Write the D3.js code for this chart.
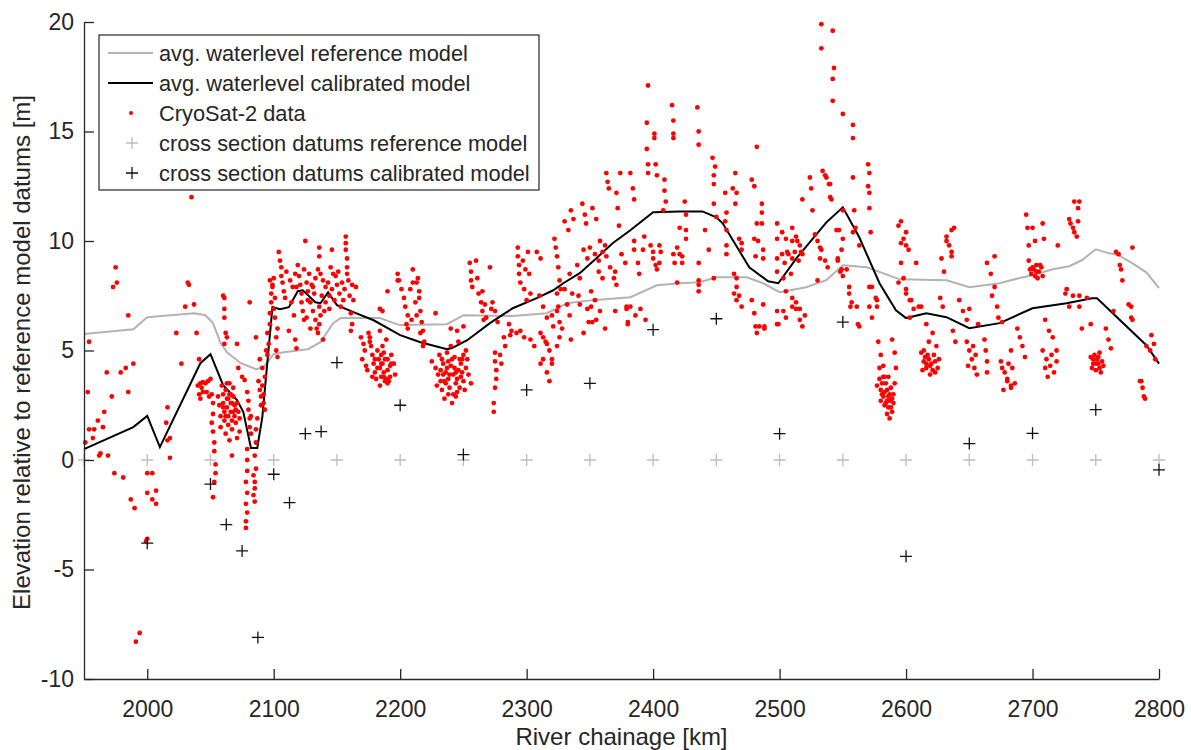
<!DOCTYPE html>
<html>
<head>
<meta charset="utf-8">
<script src="https://cdn.jsdelivr.net/npm/d3@7"></script>
<style>
  body { margin: 0; background: #fff; }
  svg { display: block; font-family: 'Liberation Sans', Arial, sans-serif; }
</style>
</head>
<body>
<svg id="chart" width="1191" height="750"></svg>
<script>
// avg. waterlevel reference model
const refKm = [1950, 1989, 2000, 2037, 2046, 2052, 2058, 2063, 2074, 2086, 2092, 2100, 2108, 2127, 2137, 2147, 2153, 2184, 2195,
  2200, 2237, 2250, 2289, 2316, 2332, 2352, 2382, 2403, 2421, 2437, 2450, 2474, 2487, 2500, 2521, 2537, 2550, 2569, 2595,
  2632, 2650, 2674, 2689, 2700, 2716, 2729, 2739, 2750, 2758, 2768, 2779, 2790, 2800]
const refLevel = [5.75, 5.97, 6.52, 6.70, 6.61, 6.25, 5.34, 4.92, 4.42, 4.15, 4.24, 4.83, 4.92, 5.06, 5.38, 6.25, 6.48, 6.48, 6.25,
  6.16, 6.20, 6.61, 6.57, 6.70, 7.16, 7.30, 7.43, 7.98, 8.07, 8.12, 8.34, 8.34, 8.07, 7.66, 7.89, 8.21, 8.89, 8.80, 8.25,
  8.21, 7.89, 8.07, 8.30, 8.44, 8.71, 8.85, 9.12, 9.62, 9.48, 9.35, 8.98, 8.57, 7.85]

// avg. waterlevel calibrated model
const calKm = [1950, 1989, 2000, 2010, 2042, 2050, 2060, 2071, 2076, 2082, 2087, 2091, 2099, 2105, 2112, 2119, 2123, 2133, 2137,
  2143, 2150, 2163, 2179, 2200, 2216, 2237, 2241, 2253, 2271, 2289, 2308, 2321, 2329, 2342, 2356, 2368, 2382, 2400, 2421,
  2439, 2450, 2455, 2476, 2491, 2499, 2514, 2537, 2550, 2563, 2579, 2592, 2600, 2616, 2632, 2650, 2674, 2700, 2727, 2747,
  2751, 2790, 2800]
const calLevel = [0.50, 1.50, 2.01, 0.59, 4.42, 4.83, 3.42, 2.74, 2.19, 0.55, 0.55, 1.96, 6.98, 6.89, 6.98, 7.71, 7.75, 7.20, 7.16,
  7.66, 7.07, 6.75, 6.38, 5.70, 5.38, 5.06, 5.11, 5.47, 6.25, 6.93, 7.39, 7.75, 8.07, 8.53, 9.26, 9.90, 10.49, 11.31, 11.35,
  11.35, 11.08, 10.81, 8.80, 8.16, 8.07, 9.26, 10.85, 11.54, 10.17, 8.07, 6.84, 6.48, 6.70, 6.52, 6.02, 6.25, 6.93, 7.16, 7.39,
  7.39, 5.24, 4.40]

// cross section datums reference model
const refDatumKm = [1950, 2000, 2050, 2100, 2150, 2200, 2250, 2300, 2350, 2400, 2450, 2500, 2550, 2600, 2650, 2700, 2750, 2800]
const refDatumLevel = [0, 0, 0, 0, 0, 0, 0, 0, 0, 0, 0, 0, 0, 0, 0, 0, 0, 0]

// cross section datums calibrated model
const calDatumKm = [2000, 2050, 2062.5, 2075, 2087.5, 2100, 2112.5, 2125, 2137.5, 2150, 2200, 2250, 2300, 2350, 2400, 2450,
  2500, 2550, 2600, 2650, 2700, 2750, 2800]
const calDatumLevel = [-3.8, -1.1, -2.95, -4.15, -8.1, -0.65, -1.95, 1.2, 1.3, 4.45, 2.5, 0.25, 3.2, 3.5, 5.95, 6.45,
  1.2, 6.3, -4.4, 0.75, 1.22, 2.3, -0.45]

// CryoSat-2 data [km, m]
const cryoSat = [
  // 1950 - 2050
  [1951, 0.8], [1953, 3.1], [1954, 5.4], [1954, 1.4], [1957, 1.0], [1958, 1.4], [1961, 1.8], [1962, 0.2], [1963, 0.3],
  [1965, 1.5], [1966, 2.2], [1968, 4.0], [1969, 0.2], [1972, 2.9], [1974, -0.6], [1973, 7.9], [1976, 8.1], [1975, 8.8],
  [1979, 4.0], [1981, -0.8], [1983, 4.2], [1985, 3.1], [1985, 6.6], [1987, -1.8], [1989, 4.4], [1990, -2.2], [1994, -7.9],
  [1991, -8.3], [1999, -3.7], [2000, -3.6], [2000, -0.6], [2004, -0.6], [2000, -1.5], [2004, -1.8], [2007, -1.4], [2007, -2.0],
  [2018, 0.1], [2018, 1.0], [2016, 0.9], [2016, 2.4], [2015, 1.7], [2023, 5.8], [2027, 4.4], [2030, 7.0], [2037, 7.1],
  [2032, 8.1], [2033, 8.0], [2035, 12.0], [2039, 5.8], [2041, 4.6], [2042, 2.8],
  [2040, 3.4], [2042, 3.5], [2044, 3.55], [2046, 3.5], [2048, 3.6], [2047, 3.1], [2044, 3.1], [2041, 3.0], [2049, 2.9], [2043, 3.3],
  [2050, 3.7], [2051, 3.0], [2052, 2.6], [2052, 2.1], [2051, 1.7], [2052, 1.3], [2053, 0.8], [2053, 0.4], [2054, -0.2],
  [2054, -0.6], [2053, -1.0], [2052, -1.7],
  // 2055 - 2100
  [2060, 7.5], [2061, 7.4], [2061, 6.9], [2061, 6.5], [2062, 5.8], [2063, 5.6], [2061, 5.3], [2071, 5.3], [2081, 7.2], [2086, 5.6],
  [2059, 3.4], [2060, 3.0], [2060, 2.6], [2061, 2.2], [2061, 1.8], [2062, 3.2], [2063, 2.8], [2063, 2.4], [2064, 2.0], [2064, 1.6],
  [2065, 3.5], [2065, 3.0], [2066, 2.6], [2066, 2.2], [2067, 1.8], [2067, 1.4], [2068, 3.3], [2068, 2.9], [2069, 2.5], [2069, 2.0],
  [2070, 1.7], [2058, 2.0], [2057, 2.5], [2056, 2.9], [2058, 1.5], [2071, 2.6], [2072, 2.2], [2073, 1.9], [2073, 1.3], [2062, 1.2],
  [2065, 0.9], [2067, 0.2], [2071, 1.0], [2072, 4.2], [2075, 3.8], [2077, 3.65],
  [2060, 2.4], [2062, 2.0], [2064, 2.8], [2066, 3.0], [2068, 2.2], [2070, 2.3], [2063, 3.5], [2067, 2.6],
  [2079, 3.1], [2080, 2.7], [2080, 2.3], [2081, 1.9], [2081, 1.5], [2082, 1.2], [2082, 2.0],
  [2079, 0.5], [2079, 0.0], [2079, -0.5], [2078, -1.0], [2079, -1.5], [2078, -2.0], [2079, -2.4], [2078, -2.8], [2078, -3.1],
  [2084, -0.7], [2085, -1.0], [2085, -1.3], [2084, -1.6], [2085, -1.9], [2086, -0.4], [2085, 0.2], [2086, 0.8], [2086, 1.4], [2087, 1.9],
  [2088, 3.6], [2089, 3.2], [2090, 2.9], [2090, 2.5], [2091, 3.4], [2092, 3.0], [2092, 2.6], [2093, 2.3], [2093, 3.8], [2091, 4.2], [2089, 4.6],
  [2094, 5.0], [2095, 5.8], [2095, 4.8], [2096, 5.3], [2097, 6.2], [2097, 6.7], [2098, 7.2], [2098, 7.6], [2099, 8.0], [2100, 8.3],
  [2101, 7.4], [2101, 6.5], [2102, 5.6], [2102, 5.0], [2103, 6.0], [2100, 6.9], [2103, 4.7], [2097, 8.2], [2099, 7.9],
  // 2100 - 2180
  [2104, 9.5], [2105, 9.1], [2106, 8.8], [2106, 8.4], [2107, 8.1], [2108, 7.7], [2109, 7.4],
  [2114, 7.2], [2116, 6.6], [2112, 5.9], [2117, 5.5], [2118, 5.1],
  [2119, 8.9], [2120, 8.4], [2121, 8.0], [2122, 7.6], [2122, 7.2], [2123, 6.8], [2124, 6.4], [2118, 7.9], [2125, 10.0], [2124, 8.7],
  [2128, 8.5], [2130, 8.0], [2132, 7.6], [2129, 7.2], [2131, 6.8], [2133, 6.4], [2134, 6.0], [2135, 5.8], [2136, 7.0], [2138, 7.5],
  [2137, 6.6], [2136, 6.2], [2139, 5.5], [2127, 7.7], [2136, 9.7], [2136, 9.3], [2137, 8.5], [2146, 9.6], [2145, 8.8], [2147, 8.5],
  [2110, 8.6], [2113, 8.2], [2115, 7.9], [2117, 8.5], [2126, 8.1], [2127, 7.3], [2131, 7.9], [2133, 8.3], [2135, 8.7], [2139, 8.2],
  [2141, 7.9], [2143, 8.1], [2144, 7.5], [2146, 7.8], [2148, 7.3], [2149, 8.4], [2151, 8.6], [2153, 7.0], [2154, 8.1], [2126, 6.5],
  [2129, 6.0], [2140, 6.8],
  [2157, 10.2], [2157, 9.9], [2157, 9.6], [2158, 9.2], [2158, 8.8], [2158, 8.5], [2159, 8.2],
  [2150, 8.0], [2152, 7.6], [2155, 7.3], [2156, 7.8], [2160, 7.5], [2162, 8.0], [2163, 7.3], [2165, 7.9], [2141, 7.2], [2144, 6.9],
  [2161, 6.7], [2162, 6.2], [2161, 5.9], [2169, 5.6], [2171, 5.3], [2172, 5.0], [2170, 4.6], [2173, 4.3], [2174, 4.1], [2175, 5.8], [2176, 5.4],
  // 2175 - 2260
  [2176, 5.6], [2177, 5.2], [2178, 4.8], [2179, 4.4], [2180, 4.0], [2181, 3.7], [2182, 5.0], [2183, 4.6], [2184, 4.2], [2185, 3.8],
  [2186, 4.4], [2187, 4.0], [2188, 3.6], [2178, 3.8], [2184, 3.4], [2189, 3.7], [2190, 3.5], [2184, 5.9], [2186, 5.2], [2188, 4.6],
  [2190, 4.1], [2192, 3.8], [2185, 4.8], [2189, 5.5], [2193, 4.8], [2195, 4.4], [2196, 3.9], [2187, 3.8], [2191, 3.6], [2193, 4.4],
  [2180, 4.6], [2182, 4.2], [2185, 4.4], [2187, 4.9], [2190, 4.6], [2192, 4.3],
  [2184, 6.9], [2186, 6.8], [2190, 7.7], [2198, 8.2],
  [2198, 8.5], [2199, 8.2], [2201, 7.8], [2203, 7.4], [2204, 7.0], [2206, 6.6], [2208, 7.8], [2210, 8.1], [2212, 7.2], [2213, 6.6],
  [2214, 8.3], [2215, 7.7], [2209, 6.4], [2205, 6.2], [2206, 6.0], [2210, 8.7], [2216, 6.8], [2217, 6.3], [2218, 5.9], [2219, 5.4],
  [2213, 8.1], [2215, 7.4], [2216, 5.8], [2218, 5.2], [2228, 6.7],
  [2225, 4.5], [2228, 4.2], [2230, 3.9], [2232, 3.6], [2234, 4.4], [2236, 4.0], [2238, 3.7], [2240, 4.3], [2242, 3.9], [2244, 3.5],
  [2246, 4.1], [2248, 3.8], [2250, 3.6], [2252, 4.2], [2231, 4.8], [2237, 4.9], [2243, 4.7], [2249, 4.6], [2233, 3.2], [2239, 3.3],
  [2245, 3.1], [2235, 2.8], [2241, 2.6], [2229, 3.4], [2247, 3.3], [2254, 3.9], [2256, 3.5], [2240, 5.2], [2246, 5.4], [2252, 5.0],
  [2240, 6.0], [2245, 5.9], [2250, 6.1], [2238, 4.5], [2244, 4.0], [2234, 3.9], [2248, 4.4], [2242, 3.0], [2236, 3.5], [2251, 3.2],
  [2233, 4.6], [2237, 4.2], [2239, 3.9], [2241, 4.6], [2243, 4.2], [2245, 3.7], [2247, 4.6], [2249, 4.0], [2235, 3.6], [2238, 3.0],
  [2244, 2.9], [2250, 4.8], [2232, 4.1], [2253, 4.6],
  // 2255 - 2330
  [2255, 9.0], [2256, 8.6], [2256, 8.2], [2257, 7.9], [2260, 9.1], [2261, 8.3], [2271, 8.8],
  [2262, 7.6], [2264, 7.2], [2265, 6.8], [2266, 6.4], [2265, 7.7], [2267, 7.1], [2268, 6.5], [2273, 7.2], [2272, 6.9],
  [2275, 6.8], [2277, 6.3], [2275, 4.9], [2275, 4.5], [2276, 4.1], [2276, 3.7], [2275, 3.3], [2274, 2.6], [2274, 2.2],
  [2279, 4.8], [2280, 4.4], [2282, 5.6], [2283, 5.2], [2286, 6.2], [2287, 5.7], [2288, 5.9], [2292, 5.8],
  [2293, 9.7], [2293, 9.3], [2294, 8.9], [2294, 8.5], [2295, 8.1], [2297, 9.1], [2299, 8.7], [2298, 7.8], [2300, 7.3],
  [2301, 9.5], [2302, 8.5], [2303, 7.6], [2295, 5.9], [2298, 5.6], [2303, 5.5], [2306, 5.2],
  [2308, 9.5], [2311, 9.2], [2310, 7.5], [2313, 7.0], [2316, 6.5], [2313, 5.6], [2316, 5.3], [2311, 4.4], [2320, 4.4],
  [2311, 5.8], [2315, 5.4], [2318, 5.0], [2320, 4.6], [2320, 6.6], [2321, 6.1], [2316, 4.0], [2318, 3.6], [2313, 4.6],
  [2322, 10.1], [2323, 9.7], [2324, 9.3], [2325, 8.8], [2326, 8.2], [2327, 7.8], [2324, 6.8], [2326, 6.3], [2326, 5.6], [2324, 5.2],
  [2324, 7.6], [2325, 7.0], [2330, 7.8],
  // 2330 - 2400
  [2330, 10.9], [2333, 10.5], [2335, 11.4], [2337, 11.0], [2334, 8.5], [2336, 7.6], [2332, 7.1], [2334, 6.6],
  [2340, 8.9], [2342, 8.3], [2341, 7.5], [2342, 7.1], [2344, 11.7], [2346, 11.2], [2347, 10.8],
  [2351, 7.7], [2351, 7.0], [2352, 6.3], [2348, 6.9], [2349, 6.3], [2352, 11.5], [2355, 11.0],
  [2350, 9.7], [2354, 9.4], [2357, 9.1], [2360, 9.5], [2357, 8.6], [2360, 8.3], [2358, 10.0], [2354, 7.3], [2358, 6.8],
  [2363, 13.1], [2364, 12.7], [2365, 12.4], [2363, 9.3], [2366, 8.8], [2369, 8.3], [2371, 8.0], [2370, 8.6],
  [2371, 12.2], [2372, 11.5], [2373, 10.7], [2374, 13.1], [2379, 7.0], [2380, 6.3], [2379, 6.9], [2380, 6.2],
  [2382, 13.1], [2384, 12.4], [2385, 11.9], [2385, 9.6], [2388, 9.0], [2389, 8.5], [2385, 10.0],
  [2395, 15.4], [2395, 14.2], [2396, 13.5], [2396, 13.1], [2396, 17.1], [2400, 9.5], [2402, 8.9],
  [2382, 7.0], [2386, 6.6], [2390, 6.9], [2394, 6.4], [2328, 6.0], [2335, 5.5], [2345, 5.8], [2355, 6.4], [2362, 6.0], [2370, 6.8],
  [2345, 9.6], [2348, 9.2], [2362, 9.8], [2375, 9.4], [2378, 9.0], [2392, 9.6], [2393, 10.2],
  // 2400 - 2500
  [2401, 14.9], [2401, 14.7], [2402, 13.5], [2403, 13.0], [2409, 12.8], [2409, 12.3], [2410, 11.8], [2408, 11.4],
  [2415, 16.2], [2416, 15.5], [2416, 14.9], [2416, 14.7], [2435, 16.1], [2436, 15.0], [2436, 14.4],
  [2425, 11.8], [2426, 11.2], [2426, 10.5], [2419, 9.7], [2423, 9.3], [2416, 9.4], [2417, 9.0],
  [2398, 9.8], [2400, 9.2], [2403, 8.7], [2406, 9.5], [2405, 9.8], [2405, 9.0], [2419, 8.1], [2436, 9.0], [2436, 8.2],
  [2441, 10.5], [2444, 9.6], [2447, 13.8], [2448, 13.0], [2448, 12.6], [2449, 13.4],
  [2457, 12.2], [2458, 11.3], [2458, 10.5], [2458, 9.8], [2457, 10.9], [2458, 9.4], [2465, 13.1], [2466, 12.2], [2463, 12.4], [2465, 11.7],
  [2466, 8.3], [2468, 7.5], [2464, 7.6], [2466, 7.3], [2468, 10.1], [2470, 9.6], [2470, 9.9], [2464, 8.5], [2466, 7.9], [2470, 7.0],
  [2478, 12.8], [2480, 12.5], [2482, 14.3], [2478, 7.3], [2480, 6.7], [2481, 6.1], [2482, 5.8], [2484, 6.1], [2488, 6.0],
  [2480, 10.1], [2481, 9.3], [2486, 10.8], [2487, 9.2], [2487, 7.1], [2488, 6.1], [2486, 11.7], [2486, 11.3], [2482, 10.8], [2483, 10.0], [2487, 9.6],
  [2498, 10.8], [2498, 10.1], [2498, 9.2], [2498, 6.8], [2498, 6.2], [2498, 8.6], [2499, 6.2],
  [2421, 10.6], [2426, 10.1], [2421, 9.4], [2423, 9.0], [2436, 8.0], [2436, 7.7], [2448, 8.3], [2448, 11.7], [2450, 11.1],
  // 2500 - 2580
  [2502, 9.4], [2504, 9.0], [2503, 6.8], [2505, 6.5], [2502, 10.4], [2505, 10.1], [2507, 9.4], [2506, 9.5], [2510, 9.2],
  [2503, 8.3], [2505, 7.7], [2510, 7.0], [2510, 10.0], [2514, 10.0], [2517, 9.5], [2509, 8.5], [2513, 7.2], [2516, 6.9], [2520, 6.6],
  [2510, 10.6], [2513, 10.2], [2516, 9.8], [2518, 9.4], [2512, 9.5], [2515, 9.1], [2510, 7.4], [2513, 6.9], [2516, 6.4], [2518, 6.1],
  [2518, 11.9], [2524, 12.9], [2525, 12.4], [2526, 11.4],
  [2528, 10.3], [2530, 10.0], [2532, 9.7], [2533, 9.6], [2536, 9.1], [2538, 8.8], [2532, 9.2], [2530, 8.2],
  [2534, 13.2], [2537, 12.9], [2540, 12.6], [2536, 13.0], [2539, 12.6], [2540, 12.0], [2541, 11.9],
  [2533, 19.9], [2533, 18.8], [2542, 19.6], [2543, 17.9], [2542, 17.4], [2542, 16.4], [2550, 15.8], [2558, 15.3], [2558, 14.7], [2558, 12.9],
  [2547, 10.5], [2549, 9.6], [2546, 9.1], [2548, 8.6], [2545, 10.5], [2550, 10.1], [2546, 9.2], [2549, 8.7], [2550, 11.4],
  [2553, 8.7], [2555, 7.9], [2557, 7.2], [2550, 8.4], [2555, 7.6], [2556, 7.0], [2562, 6.2], [2561, 7.0], [2563, 6.1],
  [2559, 11.4], [2560, 10.6], [2558, 10.4], [2563, 9.8],
  [2570, 13.5], [2570, 12.5], [2571, 11.5], [2571, 13.1], [2571, 12.2], [2572, 10.4], [2573, 7.9], [2573, 6.5], [2577, 7.0],
  [2571, 7.9], [2571, 7.0], [2576, 7.4], [2577, 7.3],
  // 2575 - 2600 low cluster
  [2578, 5.4], [2580, 4.8], [2582, 4.3], [2583, 3.8], [2584, 3.5], [2585, 3.2], [2586, 2.9], [2587, 2.7], [2588, 2.4], [2589, 2.2],
  [2590, 3.0], [2591, 3.5], [2580, 3.2], [2579, 3.7], [2582, 2.9], [2584, 2.6], [2586, 3.8], [2588, 3.3], [2577, 3.4], [2590, 2.6],
  [2592, 4.2], [2591, 4.9], [2589, 5.5], [2587, 1.9], [2581, 3.0], [2583, 2.5], [2585, 2.1], [2580, 2.7],
  [2579, 4.2], [2581, 3.5], [2583, 3.1], [2585, 2.7], [2587, 3.0], [2589, 2.8], [2582, 3.8], [2586, 2.4],
  // 2590 - 2700
  [2596, 10.9], [2598, 10.1], [2600, 9.8], [2596, 9.0], [2598, 8.3], [2600, 7.8], [2604, 7.3], [2606, 6.9], [2603, 6.5],
  [2594, 10.7], [2600, 10.4], [2596, 9.9], [2594, 8.1], [2600, 7.6], [2603, 7.3], [2608, 9.0], [2602, 9.6],
  [2610, 7.0], [2616, 6.2], [2612, 7.0],
  [2612, 4.9], [2614, 4.5], [2616, 4.2], [2618, 4.6], [2620, 4.4], [2622, 4.8], [2624, 5.2], [2626, 4.6], [2613, 4.1], [2619, 3.9],
  [2625, 4.2], [2618, 5.4], [2621, 5.8], [2615, 4.7], [2623, 4.0],
  [2614, 5.0], [2617, 4.8], [2619, 4.3], [2621, 4.1], [2623, 4.5], [2616, 4.4],
  [2632, 10.2], [2634, 9.8], [2636, 9.3], [2636, 10.5], [2638, 10.6], [2628, 9.2], [2630, 8.6], [2632, 10.0], [2636, 9.5],
  [2627, 7.4], [2629, 7.0], [2637, 5.9], [2639, 5.4], [2642, 7.3], [2645, 6.8], [2648, 6.4], [2650, 6.9],
  [2648, 5.4], [2650, 5.0], [2652, 4.6], [2654, 4.2], [2656, 3.9], [2649, 4.3], [2653, 5.2], [2655, 4.8], [2657, 6.2],
  [2662, 5.5], [2663, 5.0], [2664, 4.5], [2664, 4.0], [2664, 9.0], [2667, 8.5], [2670, 7.9], [2668, 7.5], [2670, 9.3],
  [2672, 7.0], [2673, 6.5], [2676, 6.3],
  [2675, 4.5], [2678, 4.0], [2680, 3.7], [2683, 3.3], [2686, 3.5], [2681, 4.4], [2684, 4.2], [2677, 3.2], [2676, 4.2], [2680, 3.6], [2683, 3.4],
  [2688, 6.0], [2690, 5.6], [2692, 5.2], [2694, 4.7], [2683, 5.0],
  [2695, 11.2], [2696, 10.6], [2697, 9.8], [2700, 10.6], [2702, 10.0],
  [2697, 9.1], [2700, 8.8], [2703, 8.6], [2706, 8.9], [2708, 8.4], [2699, 8.5], [2704, 8.3],
  [2701, 8.7], [2702, 8.4], [2705, 8.6], [2707, 8.8], [2698, 8.7], [2703, 8.9],
  // 2700 - 2800
  [2708, 10.8], [2709, 10.1], [2710, 6.4], [2713, 5.9], [2716, 5.6],
  [2708, 5.0], [2711, 4.6], [2714, 4.3], [2717, 4.0], [2712, 3.8], [2719, 4.5], [2719, 5.0], [2720, 9.8], [2715, 4.8], [2710, 4.2],
  [2729, 11.0], [2732, 10.6], [2735, 10.2], [2736, 11.5], [2733, 11.8], [2737, 11.8], [2730, 10.8], [2733, 10.4], [2736, 10.9],
  [2726, 7.6], [2729, 7.0], [2737, 7.5], [2737, 7.0], [2739, 6.0], [2727, 7.8], [2732, 7.5],
  [2746, 4.7], [2748, 4.4], [2750, 4.1], [2752, 4.4], [2754, 4.0], [2756, 4.3], [2749, 4.8], [2753, 4.9], [2751, 4.6], [2747, 4.2],
  [2748, 4.6], [2750, 4.4], [2752, 4.7], [2755, 4.5], [2753, 4.2],
  [2743, 7.4], [2746, 6.2], [2758, 6.0], [2760, 5.5], [2762, 5.1], [2764, 6.8],
  [2768, 9.4], [2770, 8.7], [2771, 8.2], [2766, 9.5], [2769, 8.9], [2776, 7.1], [2778, 6.5], [2778, 7.0], [2779, 6.4], [2779, 9.7],
  [2786, 3.6], [2787, 3.3], [2789, 2.8], [2785, 3.6], [2788, 2.9], [2790, 5.2], [2793, 5.0], [2796, 5.3], [2794, 5.7], [2797, 4.6]
]

const svg = d3.select('#chart')
const width = 1191
const height = 750
const margin = { top: 22, right: 32, bottom: 71, left: 84 }
const textColor = '#262626'

const x = d3.scaleLinear().domain([1950, 2800]).range([margin.left, width - margin.right])
const y = d3.scaleLinear().domain([-10, 20]).range([height - margin.bottom, margin.top])

const g = svg.append('g')

// lines
const line = d3.line().x(d => x(d[0])).y(d => y(d[1]))
g.append('path')
  .datum(d3.zip(refKm, refLevel))
  .attr('fill', 'none')
  .attr('stroke', '#b3b3b3')
  .attr('stroke-width', 2)
  .attr('d', line)
g.append('path')
  .datum(d3.zip(calKm, calLevel))
  .attr('fill', 'none')
  .attr('stroke', '#000')
  .attr('stroke-width', 2)
  .attr('d', line)

// cryosat points
g.append('g')
  .selectAll('circle')
  .data(cryoSat)
  .join('circle')
  .attr('cx', d => x(d[0]))
  .attr('cy', d => y(d[1]))
  .attr('r', 2.4)
  .attr('fill', '#ff0000')

// plus markers
const plus = s => `M${-s},0H${s}M0,${-s}V${s}`
g.append('g')
  .selectAll('path')
  .data(d3.zip(refDatumKm, refDatumLevel))
  .join('path')
  .attr('transform', d => `translate(${x(d[0])},${y(d[1])})`)
  .attr('d', plus(6))
  .attr('stroke', '#bdbdbd')
  .attr('stroke-width', 1.3)
g.append('g')
  .selectAll('path')
  .data(d3.zip(calDatumKm, calDatumLevel))
  .join('path')
  .attr('transform', d => `translate(${x(d[0])},${y(d[1])})`)
  .attr('d', plus(6))
  .attr('stroke', '#111')
  .attr('stroke-width', 1.3)

// axes (ticks inward, no box)
const fmt = d => String(d)
const xAxis = g.append('g')
  .attr('transform', `translate(0,${height - margin.bottom})`)
  .call(d3.axisBottom(x).tickValues(d3.range(2000, 2801, 100)).tickFormat(fmt).tickSize(-10).tickSizeOuter(0).tickPadding(22))
const yAxis = g.append('g')
  .attr('transform', `translate(${margin.left},0)`)
  .call(d3.axisLeft(y).tickValues(d3.range(-10, 21, 5)).tickFormat(fmt).tickSize(-10).tickSizeOuter(0).tickPadding(10))
for (const ax of [xAxis, yAxis]) {
  ax.select('.domain').attr('stroke', textColor).attr('stroke-width', 1.3)
  ax.selectAll('.tick line').attr('stroke', textColor).attr('stroke-width', 1.3)
  ax.selectAll('text').attr('fill', textColor).style('font-size', '23px').style('font-family', "'Liberation Sans', Arial, sans-serif")
}

svg.append('text')
  .attr('x', x(2375))
  .attr('y', 745)
  .attr('text-anchor', 'middle')
  .attr('fill', textColor)
  .style('font-size', '24px')
  .text('River chainage [km]')
svg.append('text')
  .attr('transform', `translate(30,${(margin.top + height - margin.bottom) / 2 + 2}) rotate(-90)`)
  .attr('text-anchor', 'middle')
  .attr('fill', textColor)
  .style('font-size', '24px')
  .text('Elevation relative to reference model datums [m]')

// legend
const legendItems = [
  { label: 'avg. waterlevel reference model', type: 'line', color: '#b3b3b3' },
  { label: 'avg. waterlevel calibrated model', type: 'line', color: '#000' },
  { label: 'CryoSat-2 data', type: 'dot', color: '#ff0000' },
  { label: 'cross section datums reference model', type: 'plus', color: '#bdbdbd' },
  { label: 'cross section datums calibrated model', type: 'plus', color: '#111' }
]
const legend = svg.append('g').attr('transform', 'translate(99,35)')
legend.append('rect')
  .attr('width', 440)
  .attr('height', 155)
  .attr('fill', '#fff')
  .attr('stroke', textColor)
  .attr('stroke-width', 1.2)
legendItems.forEach((d, i) => {
  const row = legend.append('g').attr('transform', `translate(0,${18 + i * 30})`)
  if (d.type === 'line') {
    row.append('line').attr('x1', 9).attr('x2', 54).attr('stroke', d.color).attr('stroke-width', 2)
  } else if (d.type === 'dot') {
    row.append('circle').attr('cx', 32).attr('r', 2).attr('fill', d.color)
  } else {
    row.append('path').attr('transform', 'translate(33,0)').attr('d', plus(6)).attr('stroke', d.color).attr('stroke-width', 1.3)
  }
  row.append('text')
    .attr('x', 60)
    .attr('dy', '0.35em')
    .attr('fill', textColor)
    .style('font-size', '21.8px')
    .text(d.label)
})
</script>
</body>
</html>
